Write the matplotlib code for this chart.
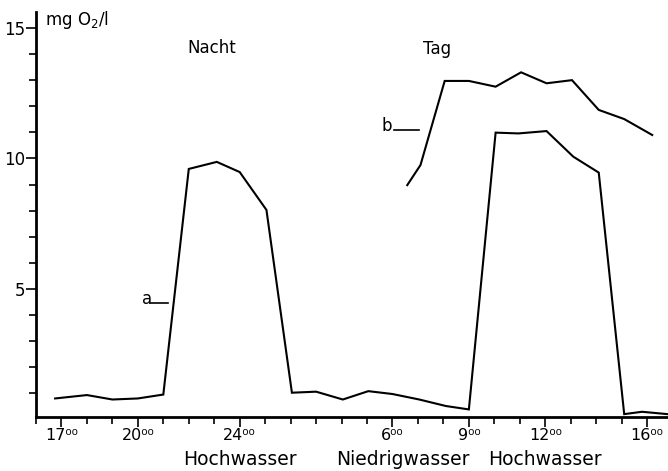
import matplotlib
matplotlib.use("Agg")
import matplotlib.pyplot as plt
from matplotlib.ticker import MultipleLocator, FixedLocator

# hours counted continuously from 17:00 (24 = midnight, 30 = 6:00, 36 = 12:00, 40 = 16:00)
hours_a = [16.75, 18, 19, 20, 21, 22, 23.1, 24, 25.05, 26.05, 27, 28.05, 29.05, 30, 31.05, 32.1, 33,
           34.05, 34.95, 36.05, 37.1, 38.1, 39.1, 39.8, 40.8]
oxygen_a = [0.81, 0.94, 0.77, 0.81, 0.96, 9.6, 9.87, 9.48, 8.03, 1.03, 1.07, 0.77, 1.09, 0.98, 0.77,
            0.52, 0.39, 10.99, 10.96, 11.05, 10.07, 9.46, 0.21, 0.30, 0.21]

hours_b = [30.58, 31.1, 32.05, 33, 34.05, 35.05, 36.05, 37.05, 38.1, 39.1, 40.2]
oxygen_b = [8.98, 9.75, 12.97, 12.97, 12.75, 13.3, 12.88, 13.0, 11.86, 11.51, 10.9]

tick_hours = [17, 20, 24, 30, 33, 36, 40]
tick_labels = ["17⁰⁰", "20⁰⁰", "24⁰⁰", "6⁰⁰", "9⁰⁰", "12⁰⁰", "16⁰⁰"]
tide_hours = [24, 30.4, 36]
tide_labels = ["Hochwasser", "Niedrigwasser", "Hochwasser"]
y_ticks = [5, 10, 15]

plt.rcParams["font.family"] = ["DejaVu Sans"]

fig = plt.figure(figsize=(6.68, 4.71), dpi=100)
ax = fig.add_axes([36 / 668, 54 / 471, 1 - 36 / 668, (417 - 12) / 471])

ax.plot(hours_a, oxygen_a, color="black", lw=1.5, solid_joinstyle="miter")
ax.plot(hours_b, oxygen_b, color="black", lw=1.5, solid_joinstyle="miter")

ax.set_xlim(16.0, 40.82)
ax.set_ylim(0.1, 15.61)

for s in ["top", "right"]:
    ax.spines[s].set_visible(False)
for s in ["left", "bottom"]:
    ax.spines[s].set_linewidth(2.0)

ax.xaxis.set_major_locator(FixedLocator(tick_hours))
ax.set_xticklabels(tick_labels, fontsize=11.5)
ax.xaxis.set_minor_locator(MultipleLocator(1))
ax.yaxis.set_major_locator(FixedLocator(y_ticks))
ax.yaxis.set_minor_locator(MultipleLocator(1))
ax.tick_params(axis="both", which="major", length=7, width=1.2, direction="out", labelsize=12)
ax.tick_params(axis="x", which="major", labelsize=11.5, pad=1)
ax.tick_params(axis="both", which="minor", length=5, width=1.2, direction="out")
ax.tick_params(axis="y", which="major", pad=1)

for h, lab in zip(tide_hours, tide_labels):
    ax.text(h, -0.081, lab, transform=ax.get_xaxis_transform(), ha="center", va="top", fontsize=13.5)

ax.text(16.35, 15.3, "mg O$_2$/l", ha="left", va="center", fontsize=12)
ax.text(22.9, 14.23, "Nacht", ha="center", va="center", fontsize=12)
ax.text(31.75, 14.2, "Tag", ha="center", va="center", fontsize=12)

ax.text(20.35, 4.6, "a", ha="center", va="center", fontsize=12)
ax.plot([20.53, 21.19], [4.47, 4.47], color="black", lw=1.2)
ax.text(30.0, 11.25, "b", ha="right", va="center", fontsize=12)
ax.plot([30.05, 31.05], [11.09, 11.09], color="black", lw=1.2)

fig.savefig("out.png", dpi=100)
